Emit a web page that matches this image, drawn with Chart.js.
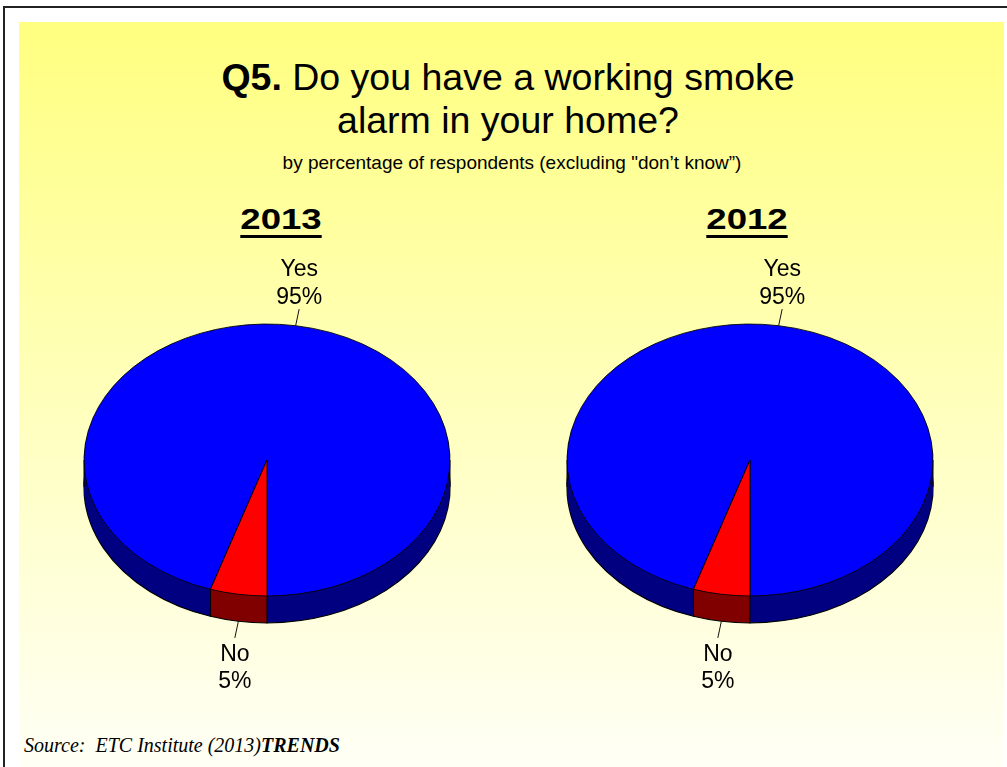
<!DOCTYPE html>
<html>
<head>
<meta charset="utf-8">
<script src="https://cdn.jsdelivr.net/npm/chart.js@4.4.1/dist/chart.umd.min.js"></script>
<style>
  html, body { margin: 0; padding: 0; background: #fff; }
  #page { position: relative; width: 1007px; height: 767px; overflow: hidden; font-family: "Liberation Sans", Arial, sans-serif; color: #000; }
  #frame { position: absolute; left: 3px; top: 6px; right: -4px; bottom: -4px; border-top: 2px solid #222; border-left: 2px solid #222; }
  #panel { position: absolute; left: 19px; top: 22px; width: 985px; height: 745px; background: linear-gradient(#ffff80, #fffff6); }
  .title { position: absolute; left: 0; width: 1016px; top: 56px; text-align: center; font-size: 37.5px; line-height: 43px; }
  .sub { position: absolute; left: 0; width: 1024px; top: 153px; text-align: center; font-size: 19px; line-height: 20px; }
  .year { position: absolute; width: 120px; top: 202px; text-align: center; font-size: 30px; line-height: 34px; font-weight: bold;
          text-decoration: underline; text-decoration-thickness: 3px; text-underline-offset: 6px; transform: scaleX(1.22); }
  .source { position: absolute; left: 24px; top: 734px; font-family: "Liberation Serif", "Times New Roman", serif; font-style: italic;
            font-size: 20px; line-height: 22px; white-space: pre; }
  canvas { position: absolute; }
</style>
</head>
<body>
<div id="page">
  <div id="frame"></div>
  <div id="panel"></div>
  <div class="title"><b>Q5.</b> Do you have a working smoke<br>alarm in your home?</div>
  <div class="sub">by percentage of respondents (excluding "don’t know”)</div>
  <div class="year" id="year0" style="left:221px"></div>
  <div class="year" id="year1" style="left:687px"></div>
  <canvas id="pie0" width="480" height="480" style="left:27px; top:220px"></canvas>
  <canvas id="pie1" width="480" height="480" style="left:510px; top:220px"></canvas>
  <div class="source">Source:  ETC Institute (2013)<b>TRENDS</b></div>
</div>
<script>
// answers and shares per survey year
const categories = ['Yes', 'No'];
const years = ['2013', '2012'];
const values2013 = [95, 5];
const values2012 = [95, 5];

const topColors = ['#0000ff', '#ff0000'];
const sideColors = ['#000080', '#800000'];
const tilt = 0.743;   // vertical squash of the pie disc
const depth = 27;     // thickness of the pie wall in px
const leader = 17;

// draws the wall under the pie, then squashes the real slices into an ellipse
const pie3d = {
  id: 'pie3d',
  beforeDatasetsDraw(chart) {
    const ctx = chart.ctx;
    const arcs = chart.getDatasetMeta(0).data;
    const cx = arcs[0].x, cy = arcs[0].y, r = arcs[0].outerRadius;

    for (let d = depth; d >= 1; d--) {
      ctx.save();
      ctx.translate(cx, cy + d);
      ctx.scale(1, tilt);
      ctx.translate(-cx, -cy);
      arcs.forEach((arc, i) => {
        const fake = Object.create(arc);
        fake.options = { ...arc.options, backgroundColor: sideColors[i], borderWidth: d === depth ? 1.4 : 0 };
        arc.draw.call(fake, ctx);
      });
      ctx.restore();
    }

    // vertical edges of the wall: outer extremes and slice borders in front
    const edges = [0, Math.PI];
    arcs.forEach(arc => edges.push(arc.startAngle));
    ctx.save();
    ctx.strokeStyle = '#000';
    ctx.lineWidth = 1;
    edges.forEach(a => {
      const s = Math.sin(a);
      if (s < -1e-6) return;
      const x = cx + r * Math.cos(a), y = cy + r * tilt * s;
      ctx.beginPath();
      ctx.moveTo(x, y);
      ctx.lineTo(x, y + depth);
      ctx.stroke();
    });
    ctx.restore();

    ctx.save();
    ctx.translate(cx, cy);
    ctx.scale(1, tilt);
    ctx.translate(-cx, -cy);
  },
  afterDatasetsDraw(chart) {
    chart.ctx.restore();
  }
};

// category name and percent with a short leader line
const sliceLabels = {
  id: 'sliceLabels',
  afterDraw(chart) {
    const ctx = chart.ctx;
    const arcs = chart.getDatasetMeta(0).data;
    const vals = chart.data.datasets[0].data;
    ctx.save();
    ctx.font = '23px "Liberation Sans", Arial, sans-serif';
    ctx.fillStyle = '#000';
    ctx.strokeStyle = '#111';
    ctx.lineWidth = 1;
    ctx.textAlign = 'center';
    ctx.textBaseline = 'alphabetic';
    arcs.forEach((arc, i) => {
      const a = (arc.startAngle + arc.endAngle) / 2;
      const c = Math.cos(a), s = Math.sin(a);
      const ax = arc.x + arc.outerRadius * c;
      const ay = arc.y + arc.outerRadius * tilt * s + (s > 0 ? depth : 0);
      let dx = c, dy = s * tilt;
      const len = Math.hypot(dx, dy);
      dx /= len; dy /= len;
      const ex = ax + dx * leader, ey = ay + dy * leader;
      ctx.beginPath();
      ctx.moveTo(ax, ay);
      ctx.lineTo(ex, ey);
      ctx.stroke();
      const name = chart.data.labels[i], pct = vals[i] + '%';
      if (dy < 0) {
        ctx.fillText(name, ex, ey - 33);
        ctx.fillText(pct, ex, ey - 5);
      } else {
        ctx.fillText(name, ex, ey + 23);
        ctx.fillText(pct, ex, ey + 50);
      }
    });
    ctx.restore();
  }
};

function makePie(id, values) {
  return new Chart(document.getElementById(id), {
    type: 'pie',
    data: {
      labels: categories,
      datasets: [{
        data: values,
        backgroundColor: topColors,
        borderColor: '#000',
        borderWidth: 1,
        hoverOffset: 0,
        radius: 183
      }]
    },
    options: {
      responsive: false,
      animation: false,
      events: [],
      rotation: 198,
      radius: 183,
      layout: { padding: 0 },
      plugins: { legend: { display: false }, tooltip: { enabled: false } }
    },
    plugins: [pie3d, sliceLabels]
  });
}

document.getElementById('year0').textContent = years[0];
document.getElementById('year1').textContent = years[1];
makePie('pie0', values2013);
makePie('pie1', values2012);
</script>
</body>
</html>
